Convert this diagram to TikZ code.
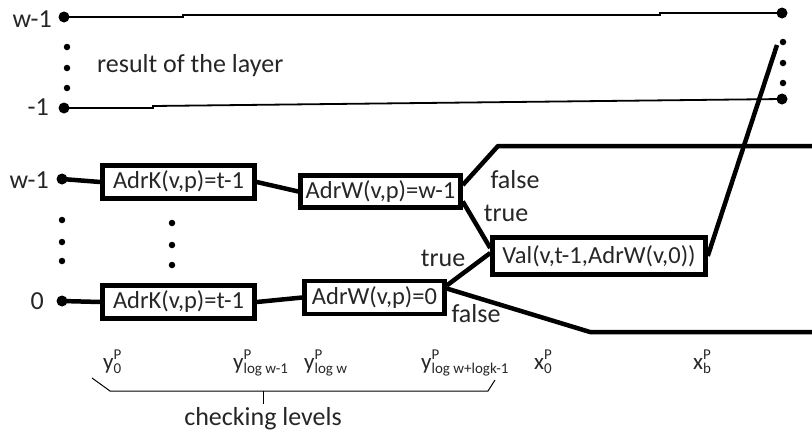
\documentclass[tikz,border=0pt]{standalone}
\usepackage{fontspec}
\setmainfont{Carlito}
\newcommand\mainfs{\fontsize{26}{30}\selectfont}
\newcommand\boxfs{\fontsize{24.5}{28}\selectfont}
\newcommand\labfs{\fontsize{23}{26}\selectfont}
\newcommand\subfs{\fontsize{15}{16}\selectfont}
\newcommand\supsub[3]{#1\rlap{\raisebox{10pt}{\subfs #2}}\raisebox{-4.5pt}{\subfs #3}}
\begin{document}
\begin{tikzpicture}[x=1pt,y=-1pt,
  box/.style={draw=black,line width=4.5pt,inner sep=0pt,font=\boxfs,text=black!85},
  bigdot/.style={circle,fill=black,inner sep=0pt,minimum size=11pt},
  smalldot/.style={circle,fill=black,inner sep=0pt,minimum size=6.5pt},
  thin rail/.style={line width=1.8pt},
  thick wire/.style={line width=4.5pt,line join=round},
  lab/.style={font=\mainfs,text=black!85,inner sep=0pt},
  blab/.style={font=\labfs,text=black!85,inner sep=0pt,anchor=base west},
]
\useasboundingbox (0,0) rectangle (812,437);

% top rails
\node[bigdot] (tl) at (64,17) {};
\node[bigdot] (tr) at (782,13) {};
\node[bigdot] (bl) at (64,108) {};
\node[bigdot] (br) at (782,99) {};
\node[lab,anchor=east] (lw1top) at (52,19) {w-1};
\node[lab,anchor=east] (lm1) at (49,107) {-1};
\foreach \yy/\n in {47/a,68/b,88/c} \node[smalldot] (ld\n) at (67,\yy) {};
\foreach \yy/\n in {42/a,63/b,83/c} \node[smalldot] (rd\n) at (783,\yy) {};
\node[lab,anchor=west] (res) at (97,66) {result of the layer};
\draw[thin rail] (tl.center) -- (183,17) -- (183,15) -- (660,15) -- (660,13) -- (tr.center);
\draw[thin rail] (bl.center) -- (153,108) -- (153,106) -- (693,100) -- (br.center);

% inputs
\node[bigdot] (in1) at (62,179) {};
\node[bigdot] (in0) at (62,301) {};
\node[lab,anchor=east] (lw1) at (49,180) {w-1};
\node[lab,anchor=east] (l0) at (44,301) {0};
\foreach \yy/\n in {220/a,242/b,261/c} \node[smalldot] (md\n) at (62,\yy) {};
\foreach \yy/\n in {223/a,245/b,265/c} \node[smalldot] (cd\n) at (172,\yy) {};

% boxes
\node[box,minimum width=152pt,minimum height=33pt] (k1) at (178.5,182) {AdrK(v,p)=t-1};
\node[box,minimum width=152pt,minimum height=33pt] (k0) at (178.5,302) {AdrK(v,p)=t-1};
\node[box,minimum width=160pt,minimum height=32pt] (w1) at (380.5,191.5) {AdrW(v,p)=w-1};
\node[box,minimum width=140pt,minimum height=33pt] (w0) at (374.5,297.5) {AdrW(v,p)=0};
\node[box,minimum width=213pt,minimum height=37pt] (val) at (599,256) {Val(v,t-1,AdrW(v,0))};

\coordinate (fa) at (498,146);
\coordinate (fb) at (812,146);
\coordinate (fc) at (590,332);
\coordinate (fd) at (812,332);
\coordinate (top) at (777,45);

\draw[thick wire] (in1.center) -- (k1.west);
\draw[thick wire] (in0.center) -- (k0.west);
\draw[thick wire] (k1.east) -- (w1.west);
\draw[thick wire] (k0.east) -- (w0.west);
\draw[thick wire] ([yshift=6.5pt]w1.east) -- (fa) -- (fb);
\draw[thick wire] ([yshift=-10pt]w1.east) -- ([yshift=8pt]val.west);
\draw[thick wire] ([yshift=12pt]w0.east) -- ([yshift=3pt]val.west);
\draw[thick wire] ([yshift=9pt]w0.east) -- (fc) -- (fd);
\draw[thick wire] (val.east) -- (top);

% branch labels
\node[lab] (lf1) at (515,180) {false};
\node[lab] (lt1) at (506,213) {true};
\node[lab] (lt0) at (443,258) {true};
\node[lab] (lf0) at (476,314) {false};

% bottom levels
\node[blab] (y0) at (103,369) {\supsub{y}{P}{0}};
\node[blab] (ylw1) at (233,369) {\supsub{y}{P}{log w-1}};
\node[blab] (ylw) at (304,369) {\supsub{y}{P}{log w}};
\node[blab] (ylast) at (421,369) {\supsub{y}{P}{log w+logk-1}};
\node[blab] (x0) at (534,369) {\supsub{x}{P}{0}};
\node[blab] (xb) at (693,369) {\supsub{x}{P}{b}};

\coordinate (b1) at (92,378);
\coordinate (b2) at (110,391);
\coordinate (b3) at (488,391);
\coordinate (b4) at (495,380);
\coordinate (bt) at (263,391);
\coordinate (bt2) at (263,404);
\draw[line width=1pt] (b1) -- (b2) -- (b3) -- (b4);
\draw[line width=1pt] (bt) -- (bt2);
\node[lab,anchor=north] (chk) at (263,407) {checking levels};
\end{tikzpicture}
\end{document}
